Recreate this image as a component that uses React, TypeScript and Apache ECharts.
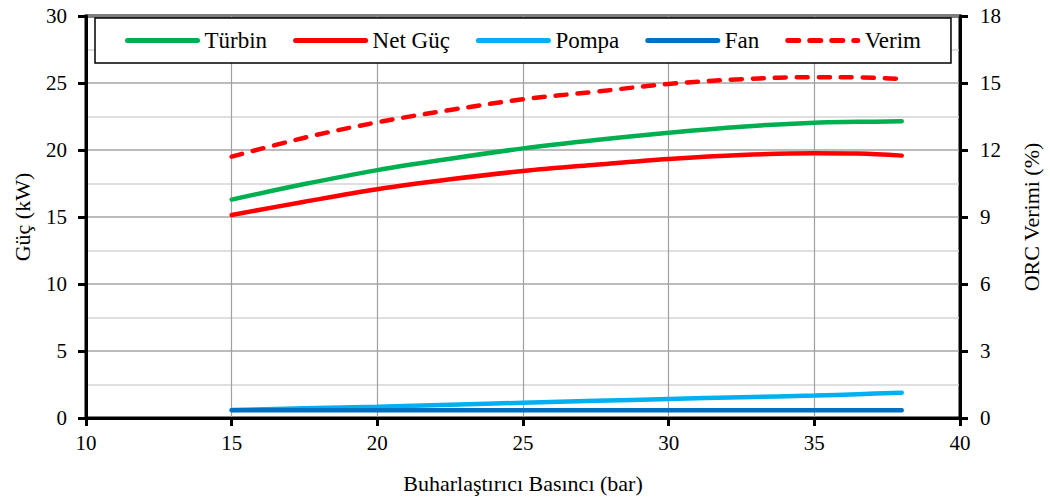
import React, { useEffect, useRef } from "react";
import * as echarts from "echarts";

// Evaporator pressure (bar)
const pressure = [15, 17.5, 20, 22.5, 25, 27.5, 30, 32.5, 35, 36.5, 38];
// Power values (kW)
const turbine = [16.3, 17.46, 18.5, 19.35, 20.12, 20.75, 21.29, 21.74, 22.04, 22.1, 22.14];
const netPower = [15.15, 16.14, 17.07, 17.81, 18.43, 18.9, 19.33, 19.63, 19.75, 19.73, 19.58];
const pump = [0.6, 0.72, 0.84, 0.99, 1.14, 1.28, 1.42, 1.55, 1.67, 1.78, 1.89];
const fan = [0.57, 0.57, 0.57, 0.57, 0.57, 0.57, 0.57, 0.57, 0.57, 0.57, 0.57];
// ORC efficiency (%)
const efficiency = [11.7, 12.55, 13.24, 13.79, 14.27, 14.61, 14.96, 15.17, 15.26, 15.25, 15.18];

const names = ["Türbin", "Net Güç", "Pompa", "Fan", "Verim"];

const FONT = "Liberation Serif";

const pairs = (ys: number[]) => pressure.map((x, i) => [x, ys[i]]);

export default function App() {
  const ref = useRef<HTMLDivElement>(null);

  useEffect(() => {
    if (!ref.current) return;
    const chart = echarts.init(ref.current, null, { renderer: "svg" });

    const lineSeries = (name: string, data: number[], color: string, extra: any = {}) => ({
      name,
      type: "line",
      data: pairs(data),
      smooth: 0.35,
      symbol: "none",
      showSymbol: false,
      lineStyle: { color, width: 4.5, cap: "round", ...(extra.lineStyle || {}) },
      itemStyle: { color },
      yAxisIndex: extra.yAxisIndex || 0,
      z: extra.z || 3,
    });

    chart.setOption({
      animation: false,
      backgroundColor: "#fff",
      textStyle: { fontFamily: FONT, color: "#000" },
      grid: {
        left: 86,
        right: 86,
        top: 16,
        bottom: 82,
        show: true,
        borderColor: "#000",
        borderWidth: 3,
        backgroundColor: "transparent",
      },
      legend: {
        data: names,
        left: 95,
        top: 18,
        padding: [11, 30, 11, 30],
        itemGap: 26,
        itemWidth: 70,
        itemHeight: 14,
        borderColor: "#000",
        borderWidth: 1.5,
        backgroundColor: "#fff",
        itemStyle: { opacity: 0 },
        lineStyle: { width: 5, cap: "round" },
        textStyle: { fontFamily: FONT, fontSize: 23, color: "#000", padding: [0, 0, 0, 2] },
        z: 10,
      },
      xAxis: {
        type: "value",
        min: 10,
        max: 40,
        interval: 5,
        name: "Buharlaştırıcı Basıncı (bar)",
        nameLocation: "middle",
        nameGap: 54,
        nameTextStyle: { fontFamily: FONT, fontSize: 22, color: "#000" },
        axisLine: { show: true, onZero: false, lineStyle: { color: "#000", width: 3 } },
        axisTick: { show: true, inside: false, length: 8, lineStyle: { color: "#000", width: 3 } },
        axisLabel: { fontFamily: FONT, fontSize: 21, color: "#000", margin: 14 },
        splitLine: { show: true, lineStyle: { color: "#a0a0a0", width: 1.2 } },
      },
      yAxis: [
        {
          type: "value",
          min: 0,
          max: 30,
          interval: 5,
          name: "Güç (kW)",
          nameLocation: "middle",
          nameGap: 53,
          nameTextStyle: { fontFamily: FONT, fontSize: 22, color: "#000" },
          axisLine: { show: true, lineStyle: { color: "#000", width: 3 } },
          axisTick: { show: true, inside: false, length: 8, lineStyle: { color: "#000", width: 3 } },
          axisLabel: { fontFamily: FONT, fontSize: 21, color: "#000", margin: 19 },
          splitLine: { show: true, lineStyle: { color: "#a6a6a6", width: 1.5 } },
          minorTick: { show: false, splitNumber: 2 },
          minorSplitLine: { show: true, lineStyle: { color: "#d4d4d4", width: 1.5 } },
        },
        {
          type: "value",
          min: 0,
          max: 18,
          interval: 3,
          name: "ORC Verimi (%)",
          nameLocation: "middle",
          nameGap: 60,
          nameRotate: 90,
          nameTextStyle: { fontFamily: FONT, fontSize: 22, color: "#000" },
          axisLine: { show: true, lineStyle: { color: "#000", width: 3 } },
          axisTick: { show: true, inside: false, length: 8, lineStyle: { color: "#000", width: 3 } },
          axisLabel: { fontFamily: FONT, fontSize: 21, color: "#000", margin: 20 },
          splitLine: { show: false },
        },
      ],
      series: [
        lineSeries("Türbin", turbine, "#00b050"),
        lineSeries("Net Güç", netPower, "#ff0000"),
        lineSeries("Pompa", pump, "#00b0f0"),
        lineSeries("Fan", fan, "#0070c0", { z: 4 }),
        lineSeries("Verim", efficiency, "#ff0000", {
          yAxisIndex: 1,
          lineStyle: { type: [11, 11], cap: "round" },
        }),
      ],
    });

    return () => chart.dispose();
  }, []);

  return (
    <div
      ref={ref}
      style={{ position: "fixed", left: 0, top: 0, width: 1050, height: 500, background: "#fff" }}
    />
  );
}
